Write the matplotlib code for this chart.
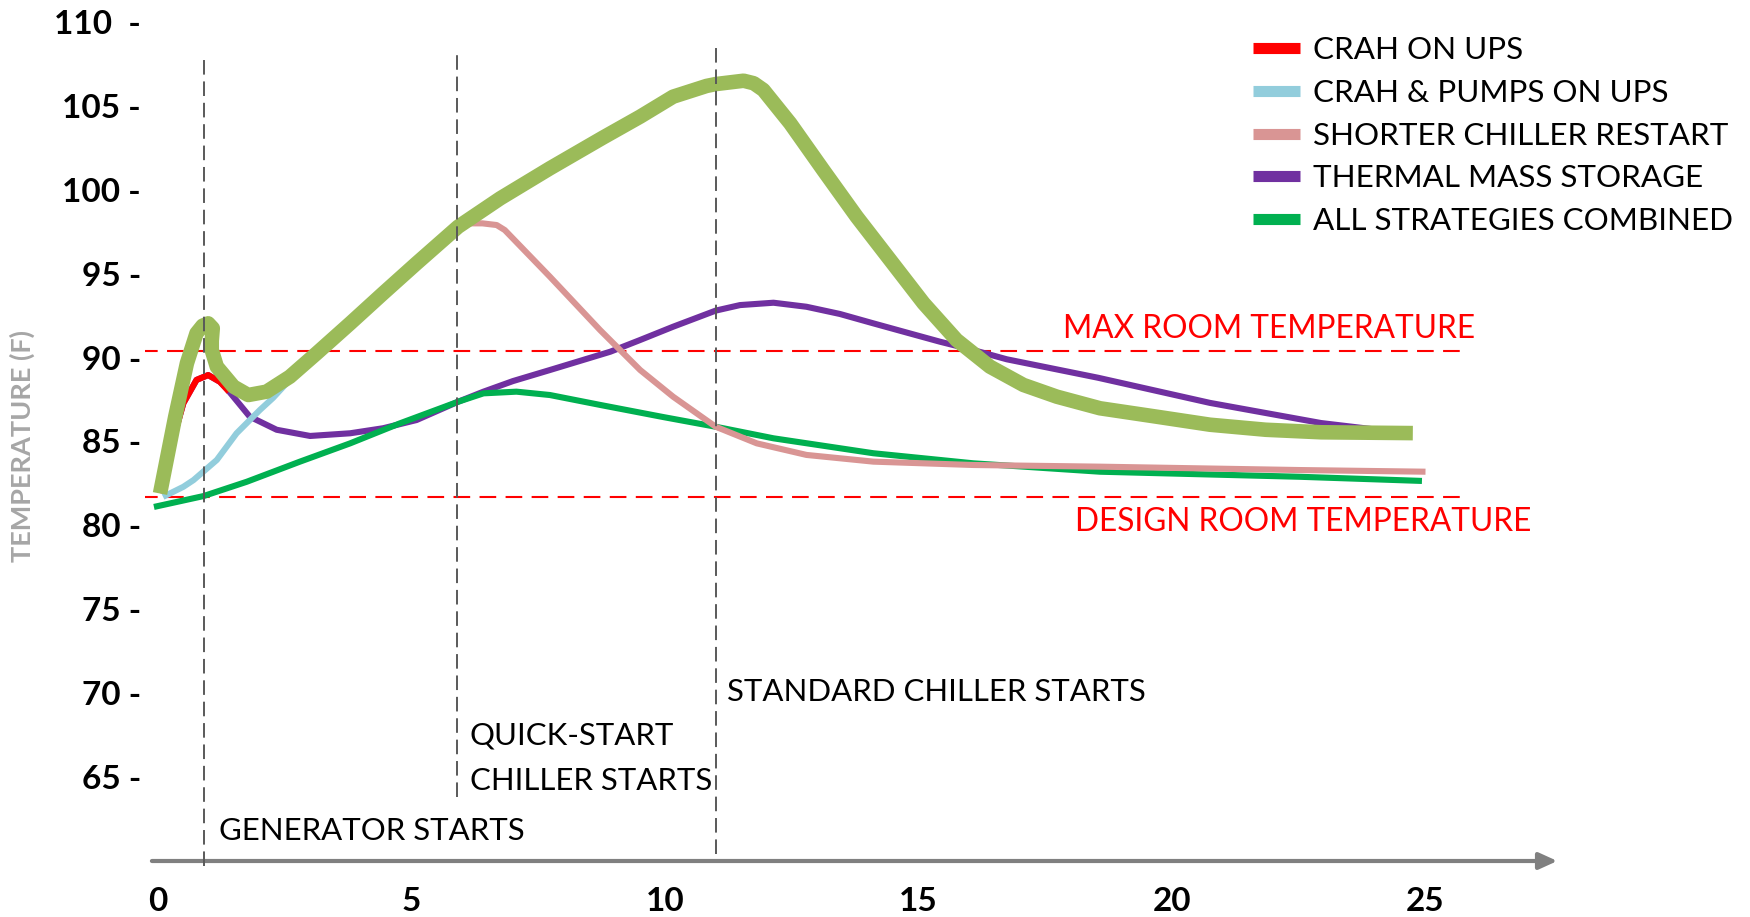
import matplotlib
matplotlib.use("Agg")
import matplotlib.pyplot as plt
from matplotlib.lines import Line2D

plt.rcParams['font.family'] = ['Lato', 'DejaVu Sans']

# minutes after power loss (x) vs room temperature in F (y)
base_x = [0.04, 0.34, 0.57, 0.76, 0.88, 0.99, 1.08, 1.06, 1.06, 1.16, 1.49, 1.78, 2.14, 2.6,
          3.13, 3.79, 4.44, 5.1, 5.92, 6.75, 7.73, 8.77, 9.51, 10.16, 10.82, 11.0, 11.55, 11.75,
          11.94, 12.47, 13.12, 13.78, 14.44, 15.1, 15.75, 16.41, 17.07, 17.73, 18.58, 19.65,
          20.75, 21.85, 22.94, 24.75]
base_y = [81.9, 86.48, 89.66, 91.45, 91.9, 92.04, 91.75, 91.0, 90.45, 89.46, 88.27, 87.77, 87.97,
          88.86, 90.26, 92.04, 93.83, 95.62, 97.8, 99.49, 101.28, 103.1, 104.36, 105.55, 106.19,
          106.3, 106.5, 106.35, 105.95, 103.96, 101.18, 98.4, 95.82, 93.24, 91.05, 89.46, 88.37,
          87.67, 86.98, 86.5, 86.0, 85.7, 85.55, 85.5]

crah_x = [0.1, 0.24, 0.5, 0.76, 0.99, 1.22, 1.4]
crah_y = [81.9, 84.5, 87.28, 88.67, 88.96, 88.56, 87.97]

pumps_x = [0.1, 0.5, 0.7, 1.16, 1.55, 2.01, 2.27, 2.62]
pumps_y = [81.7, 82.3, 82.7, 83.9, 85.49, 86.88, 87.6, 88.75]

chiller_x = [5.92, 6.09, 6.4, 6.68, 6.84, 7.73, 8.72, 9.51, 10.16, 11.0, 11.81, 12.79, 14.11,
             16.08, 18.58, 22.5, 25.0]
chiller_y = [97.8, 98.0, 98.0, 97.9, 97.6, 94.82, 91.64, 89.26, 87.67, 85.88, 84.89, 84.2, 83.8,
             83.6, 83.5, 83.3, 83.2]

mass_x = [0.1, 0.24, 0.5, 0.76, 0.99, 1.22, 1.35, 1.81, 2.34, 3.0, 3.79, 4.44, 5.1, 5.92, 6.42,
          7.0, 7.73, 8.92, 9.51, 10.16, 11.0, 11.48, 12.14, 12.79, 13.45, 14.11, 14.77, 15.42,
          16.08, 16.74, 18.54, 20.75, 22.94, 24.05, 24.7]
mass_y = [81.9, 84.5, 87.28, 88.67, 88.96, 88.56, 88.17, 86.48, 85.7, 85.33, 85.49, 85.79, 86.28,
          87.37, 87.97, 88.6, 89.26, 90.35, 91.05, 91.84, 92.8, 93.13, 93.27, 93.03, 92.6, 92.04,
          91.49, 90.95, 90.45, 89.9, 88.8, 87.3, 86.1, 85.7, 85.5]

all_x = [-0.08, 0.9, 1.75, 2.8, 3.79, 4.77, 5.92, 6.42, 7.07, 7.73, 8.72, 9.96, 11.0, 12.14,
         14.11, 16.08, 18.58, 22.5, 24.93]
all_y = [81.1, 81.75, 82.6, 83.8, 84.89, 86.08, 87.37, 87.87, 87.97, 87.77, 87.18, 86.46, 85.88,
         85.19, 84.3, 83.7, 83.2, 82.9, 82.65]

max_temp = 90.4
design_temp = 81.7
events = [0.9, 5.9, 11.0]
event_tops = [107.85, 108.4, 108.5]
event_bottoms = [59.7, 63.8, 60.4]

y_ticks = [65, 70, 75, 80, 85, 90, 95, 100, 105, 110]
x_ticks = [0, 5, 10, 15, 20, 25]

labels = ["CRAH ON UPS", "CRAH & PUMPS ON UPS", "SHORTER CHILLER RESTART",
          "THERMAL MASS STORAGE", "ALL STRATEGIES COMBINED"]
colors = ["#ff0000", "#92cddc", "#d99594", "#7030a0", "#00b050"]
base_color = "#9bbb59"

W, H = 1750, 917
fig = plt.figure(figsize=(W / 100, H / 100), dpi=100)
ax = fig.add_axes([145 / W, (H - 870) / H, (W - 145) / W, 870 / H])
ax.set_xlim((145 - 158) / 50.7, (W - 158) / 50.7)
ax.set_ylim(110 - (870 - 22) / 16.78, 110 + 22 / 16.78)
for s in ax.spines.values():
    s.set_visible(False)

# reference temperatures
ref_kw = dict(color="#ff0000", lw=1.5, dashes=(8, 4.5), zorder=1)
ax.plot([-0.33, 25.86], [max_temp, max_temp], **ref_kw)
ax.plot([-0.33, 25.86], [design_temp, design_temp], **ref_kw)

lw = 4.4
line_kw = dict(lw=lw, solid_capstyle="butt", solid_joinstyle="round")
ax.plot(all_x, all_y, color=colors[4], zorder=3, **line_kw)
ax.plot(mass_x, mass_y, color=colors[3], zorder=2.5, **line_kw)
ax.plot(crah_x, crah_y, color=colors[0], zorder=4, **line_kw)
ax.plot(pumps_x, pumps_y, color=colors[1], zorder=5, **line_kw)
ax.plot(chiller_x, chiller_y, color=colors[2], zorder=6, **line_kw)
ax.plot(base_x, base_y, color=base_color, lw=10.5, zorder=7, solid_capstyle="butt",
        solid_joinstyle="round")

# event markers
for ex, top, bot in zip(events, event_tops, event_bottoms):
    ax.plot([ex, ex], [bot, top], color="#595959", lw=1.4, dashes=(7.5, 3.5), zorder=8)

# x axis arrow
ax.annotate("", xy=(27.6, 60.0), xytext=(-0.12, 60.0),
            arrowprops=dict(arrowstyle="-|>,head_length=0.55,head_width=0.25",
                            mutation_scale=20, lw=3, color="#808080",
                            shrinkA=0, shrinkB=0), zorder=2)

ax.set_yticks(y_ticks)
ax.set_yticklabels([f"{t}  -" if t == 110 else f"{t} -" for t in y_ticks])
ax.set_xticks(x_ticks)
ax.set_xticklabels([str(t) for t in x_ticks])
ax.tick_params(axis="both", length=0, labelsize=24)
ax.tick_params(axis="y", pad=3)
ax.tick_params(axis="x", pad=12)
for lab in ax.get_xticklabels() + ax.get_yticklabels():
    lab.set_fontweight("bold")

txt = dict(fontsize=22.4, va="center", ha="left", color="black")
ax.text(1.2, 61.8, "GENERATOR STARTS", **txt)
ax.text(6.15, 67.45, "QUICK-START", **txt)
ax.text(6.15, 64.77, "CHILLER STARTS", **txt)
ax.text(11.22, 70.07, "STANDARD CHILLER STARTS", **txt)
ax.text(17.85, 91.7, "MAX ROOM TEMPERATURE", **dict(txt, color="#ff0000", fontsize=22.8))
ax.text(18.09, 80.2, "DESIGN ROOM TEMPERATURE", **dict(txt, color="#ff0000", fontsize=22.8))

fig.text(22 / W, 1 - 446 / H, "TEMPERATURE (F)", rotation=90, ha="center", va="center",
         fontsize=19.5, fontweight="bold", color="#a6a6a6")

handles = [Line2D([], [], color=c, lw=8, solid_capstyle="butt") for c in colors]
ax.legend(handles, labels, loc="upper left", bbox_to_anchor=(1253 / W, 1 - 36 / H),
          bbox_transform=fig.transFigure, frameon=False, fontsize=22.6, borderpad=0,
          borderaxespad=0, handlelength=1.5, handletextpad=0.42, labelspacing=0.47)

fig.savefig("out.png", dpi=100)
